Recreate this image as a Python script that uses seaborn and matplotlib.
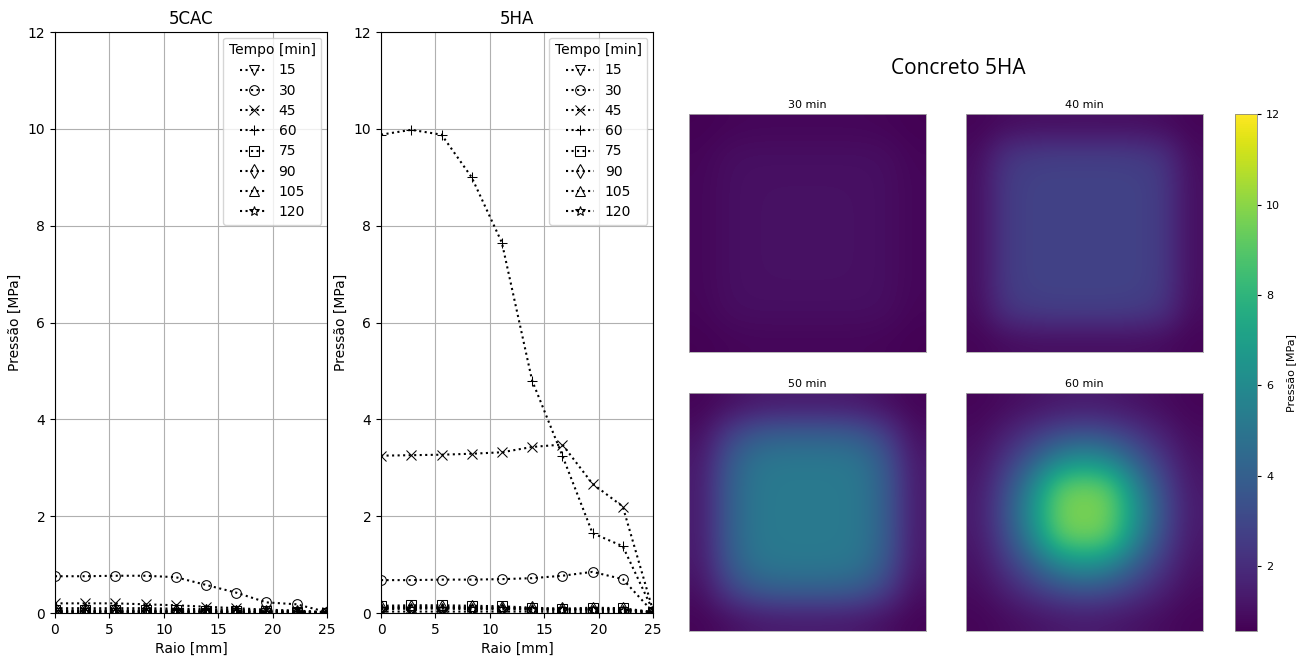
import numpy as np
import pandas as pd
import matplotlib
matplotlib.use("Agg")
import matplotlib.pyplot as plt
import seaborn as sns

# raio [mm] e tempos [min]
raio = [0, 2.78, 5.56, 8.33, 11.11, 13.89, 16.67, 19.44, 22.22, 25]
tempos = [15, 30, 45, 60, 75, 90, 105, 120]
marcadores = ['v', 'o', 'x', '+', 's', 'd', '^', '*']

# Pressão [MPa] - concreto 5CAC
cac = {
    15: [0.01, 0.01, 0.01, 0.01, 0.01, 0.01, 0.01, 0.01, 0.01, 0.0],
    30: [0.76, 0.76, 0.77, 0.77, 0.74, 0.58, 0.42, 0.22, 0.18, 0.02],
    45: [0.20, 0.20, 0.20, 0.18, 0.16, 0.13, 0.10, 0.07, 0.05, 0.02],
    60: [0.10, 0.10, 0.10, 0.10, 0.09, 0.08, 0.07, 0.05, 0.04, 0.01],
    75: [0.06, 0.06, 0.06, 0.06, 0.06, 0.05, 0.05, 0.04, 0.03, 0.01],
    90: [0.04, 0.04, 0.04, 0.04, 0.04, 0.04, 0.03, 0.03, 0.02, 0.01],
    105: [0.03, 0.03, 0.03, 0.03, 0.03, 0.03, 0.02, 0.02, 0.02, 0.01],
    120: [0.02, 0.02, 0.02, 0.02, 0.02, 0.02, 0.02, 0.01, 0.01, 0.0],
}

# Pressão [MPa] - concreto 5HA
ha = {
    15: [0.03, 0.03, 0.03, 0.03, 0.03, 0.03, 0.02, 0.02, 0.02, 0.0],
    30: [0.68, 0.68, 0.69, 0.69, 0.70, 0.72, 0.77, 0.85, 0.70, 0.02],
    45: [3.25, 3.26, 3.27, 3.29, 3.32, 3.43, 3.48, 2.67, 2.20, 0.05],
    60: [9.88, 9.98, 9.88, 9.00, 7.65, 4.80, 3.25, 1.65, 1.38, 0.05],
    75: [0.15, 0.16, 0.16, 0.15, 0.14, 0.11, 0.09, 0.11, 0.10, 0.02],
    90: [0.12, 0.13, 0.13, 0.12, 0.11, 0.10, 0.08, 0.09, 0.08, 0.02],
    105: [0.10, 0.11, 0.11, 0.10, 0.10, 0.08, 0.07, 0.07, 0.07, 0.01],
    120: [0.08, 0.09, 0.09, 0.08, 0.08, 0.07, 0.06, 0.06, 0.05, 0.01],
}

# mapas de pressão (grade grossa 9x9) - concreto 5HA
mapa_30 = [
    [0.60, 0.70, 0.75, 0.75, 0.75, 0.75, 0.75, 0.70, 0.60],
    [0.70, 0.95, 1.00, 1.00, 1.00, 1.00, 1.00, 0.95, 0.70],
    [0.75, 1.00, 1.05, 1.05, 1.05, 1.05, 1.05, 1.00, 0.75],
    [0.75, 1.00, 1.05, 1.10, 1.10, 1.10, 1.05, 1.00, 0.75],
    [0.75, 1.00, 1.05, 1.10, 1.10, 1.10, 1.05, 1.00, 0.75],
    [0.75, 1.00, 1.05, 1.10, 1.10, 1.10, 1.05, 1.00, 0.75],
    [0.75, 1.00, 1.05, 1.05, 1.05, 1.05, 1.05, 1.00, 0.75],
    [0.70, 0.95, 1.00, 1.00, 1.00, 1.00, 1.00, 0.95, 0.70],
    [0.60, 0.70, 0.75, 0.75, 0.75, 0.75, 0.75, 0.70, 0.60],
]
mapa_40 = [
    [0.70, 0.90, 1.00, 1.00, 1.00, 1.00, 1.00, 0.90, 0.70],
    [0.90, 2.20, 2.50, 2.60, 2.60, 2.60, 2.50, 2.20, 0.90],
    [1.00, 2.50, 2.80, 2.80, 2.80, 2.80, 2.80, 2.50, 1.00],
    [1.00, 2.50, 2.80, 2.80, 2.80, 2.80, 2.80, 2.50, 1.00],
    [1.00, 2.50, 2.80, 2.80, 2.80, 2.80, 2.80, 2.50, 1.00],
    [1.00, 2.50, 2.80, 2.80, 2.80, 2.80, 2.80, 2.50, 1.00],
    [1.00, 2.50, 2.80, 2.80, 2.80, 2.80, 2.80, 2.50, 1.00],
    [0.90, 2.20, 2.50, 2.60, 2.60, 2.60, 2.50, 2.20, 0.90],
    [0.70, 0.90, 1.00, 1.00, 1.00, 1.00, 1.00, 0.90, 0.70],
]
mapa_50 = [
    [0.70, 1.00, 1.30, 1.40, 1.40, 1.40, 1.30, 1.00, 0.70],
    [1.00, 2.60, 3.60, 3.90, 3.90, 3.90, 3.60, 2.60, 1.00],
    [1.30, 3.60, 4.90, 5.10, 5.10, 5.10, 4.90, 3.60, 1.30],
    [1.40, 3.90, 5.10, 5.20, 5.20, 5.20, 5.10, 3.90, 1.40],
    [1.40, 3.90, 5.10, 5.20, 5.20, 5.20, 5.10, 3.90, 1.40],
    [1.40, 3.90, 5.10, 5.20, 5.20, 5.20, 5.10, 3.90, 1.40],
    [1.30, 3.60, 4.90, 5.10, 5.10, 5.10, 4.90, 3.60, 1.30],
    [1.00, 2.60, 3.60, 3.90, 3.90, 3.90, 3.60, 2.60, 1.00],
    [0.70, 1.00, 1.30, 1.40, 1.40, 1.40, 1.30, 1.00, 0.70],
]
mapa_60 = [
    [0.70, 0.90, 1.10, 1.30, 1.40, 1.30, 1.10, 0.90, 0.70],
    [0.90, 1.50, 2.30, 3.00, 3.30, 3.00, 2.30, 1.50, 0.90],
    [1.10, 2.30, 3.80, 5.60, 6.40, 5.60, 3.80, 2.30, 1.10],
    [1.30, 3.00, 5.60, 9.00, 9.50, 9.00, 5.60, 3.00, 1.30],
    [1.40, 3.30, 6.40, 9.50, 9.80, 9.50, 6.40, 3.30, 1.40],
    [1.30, 3.00, 5.60, 9.00, 9.50, 9.00, 5.60, 3.00, 1.30],
    [1.10, 2.30, 3.80, 5.60, 6.40, 5.60, 3.80, 2.30, 1.10],
    [0.90, 1.50, 2.30, 3.00, 3.30, 3.00, 2.30, 1.50, 0.90],
    [0.70, 0.90, 1.10, 1.30, 1.40, 1.30, 1.10, 0.90, 0.70],
]
mapas = {'30 min': mapa_30, '40 min': mapa_40, '50 min': mapa_50, '60 min': mapa_60}

plt.style.use('default')
plt.rcParams['font.family'] = ['DejaVu Sans']

fig = plt.figure(figsize=(13, 6.56), dpi=100)

ax1 = fig.add_axes([0.0423, 0.0655, 0.2092, 0.8857])
ax2 = fig.add_axes([0.2931, 0.0655, 0.2092, 0.8857])

for ax, dados, titulo in [(ax1, cac, '5CAC'), (ax2, ha, '5HA')]:
    for t, m in zip(tempos, marcadores):
        df = pd.DataFrame({'Raio': raio, 'Pressao': dados[t]})
        sns.lineplot(data=df, x='Raio', y='Pressao', ax=ax, color='black',
                     linestyle=':', marker=m, markerfacecolor='none',
                     markeredgecolor='black', markersize=7, linewidth=1.5,
                     label=str(t))
    ax.set_xlim(0, 25)
    ax.set_ylim(0, 12)
    ax.set_xticks([0, 5, 10, 15, 20, 25])
    ax.set_yticks([0, 2, 4, 6, 8, 10, 12])
    ax.grid(True, color='#b0b0b0', linewidth=0.8)
    ax.set_title(titulo, fontsize=12)
    ax.set_xlabel('Raio [mm]', fontsize=10)
    ax.set_ylabel('Pressão [MPa]', fontsize=10)
    ax.tick_params(labelsize=10)
    ax.legend(title='Tempo [min]', loc='upper right', fontsize=10,
              title_fontsize=10, labelspacing=0.45, borderaxespad=0.4)

# mapas de calor
pos = {'30 min': [0.530, 0.4634, 0.1823, 0.3628],
       '40 min': [0.7431, 0.4634, 0.1823, 0.3628],
       '50 min': [0.530, 0.0381, 0.1823, 0.3628],
       '60 min': [0.7431, 0.0381, 0.1823, 0.3628]}
vmin, vmax = 0.57, 12
for nome, grade in mapas.items():
    axm = fig.add_axes(pos[nome])
    im = axm.imshow(np.array(grade), cmap='viridis', vmin=vmin, vmax=vmax,
                    interpolation='bicubic', aspect='auto')
    axm.set_xticks([])
    axm.set_yticks([])
    for s in axm.spines.values():
        s.set_color('#aaaaaa')
        s.set_linewidth(0.6)
    axm.set_title(nome, fontsize=8, pad=4)

cax = fig.add_axes([0.950, 0.0381, 0.0169, 0.788])
cb = fig.colorbar(im, cax=cax)
cb.set_ticks([2, 4, 6, 8, 10, 12])
cb.ax.tick_params(labelsize=8, length=3)
cb.set_label('Pressão [MPa]', fontsize=8)
cb.outline.set_edgecolor('#888888')
cb.outline.set_linewidth(0.6)

fig.text(0.737, 0.896, 'Concreto 5HA', ha='center', va='center',
         fontsize=15, family=['Open Sans', 'DejaVu Sans'])

fig.savefig('out.png', dpi=100)
